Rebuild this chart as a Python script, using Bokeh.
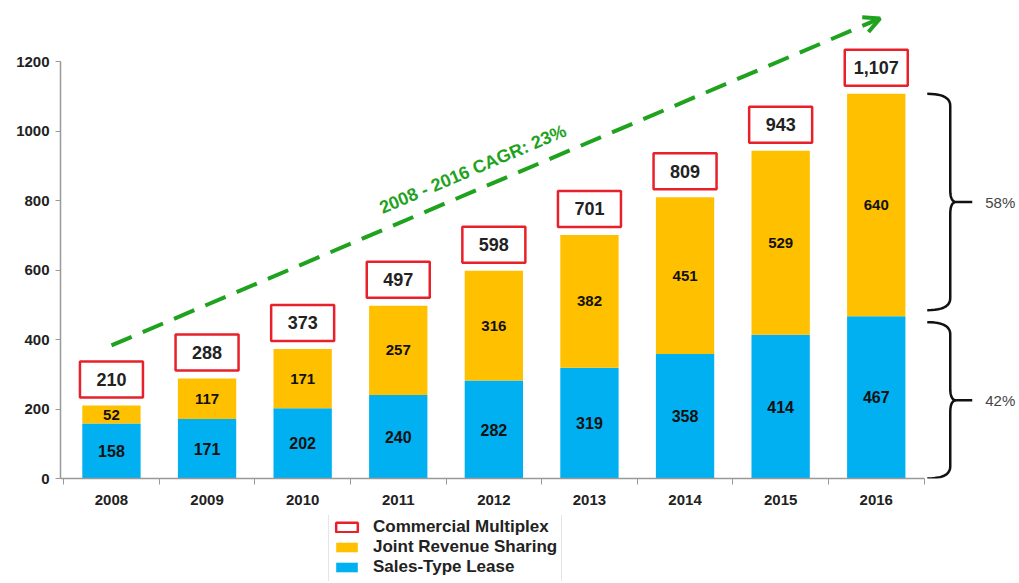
import numpy as np
from bokeh.plotting import figure
from bokeh.layouts import column
from bokeh.models import (Range1d, FixedTicker, ColumnDataSource, Legend, LegendItem,
                          Arrow, OpenHead)
from bokeh.core.properties import value
from bokeh.embed import file_html
from bokeh.resources import INLINE

years = ['2008', '2009', '2010', '2011', '2012', '2013', '2014', '2015', '2016']
sales_type_lease = [158, 171, 202, 240, 282, 319, 358, 414, 467]
joint_revenue = [52, 117, 171, 257, 316, 382, 451, 529, 640]
commercial_total = [210, 288, 373, 497, 598, 701, 809, 943, 1107]
y_ticks = [0, 200, 400, 600, 800, 1000, 1200]
cagr_label = "2008 - 2016 CAGR: 23%"
legend_labels = ["Commercial Multiplex", "Joint Revenue Sharing", "Sales-Type Lease"]

FONT = "Liberation Sans"
BLUE = "#00B0F0"
YELLOW = "#FFC000"
RED = "#E8202A"
GREEN = "#1FA31F"

PX_X = 95.6      # pixels per category
PX_Y = 0.3475    # pixels per unit
W = 1019
LEFT = 60
TOP = 12
FRAME_H = 466
MAIN_H = 515
LEG_H = 66

idx = list(range(len(years)))
src = ColumnDataSource(dict(
    x=idx,
    sales=sales_type_lease,
    jrs=joint_revenue,
    total=commercial_total,
    sales_mid=[s / 2 for s in sales_type_lease],
    jrs_mid=[s + j / 2 for s, j in zip(sales_type_lease, joint_revenue)],
    box_y=[t + 26 / PX_Y for t in commercial_total],
    total_lbl=[f"{t:,}" for t in commercial_total],
    sales_lbl=[str(v) for v in sales_type_lease],
    jrs_lbl=[str(v) for v in joint_revenue],
))

x0r = -0.533
p = figure(width=W, height=MAIN_H, output_backend="svg", toolbar_location=None,
           x_range=Range1d(x0r, x0r + (W - LEFT) / PX_X),
           y_range=Range1d(0, FRAME_H / PX_Y),
           min_border_left=LEFT, min_border_right=0, min_border_top=TOP,
           min_border_bottom=MAIN_H - TOP - FRAME_H)
p.outline_line_color = None
p.xgrid.visible = False
p.ygrid.visible = False

bars = p.vbar_stack(['sales', 'jrs'], x='x', width=0.61, source=src,
                    color=[BLUE, YELLOW], line_color=None)

p.rect(x='x', y='box_y', width=63, height=36, width_units='screen',
       height_units='screen', source=src, fill_color="white",
       line_color=RED, line_width=2.5)

p.text(x='x', y='box_y', text='total_lbl', source=src, text_align='center',
       text_baseline='middle', text_font=value(FONT), text_font_size='18px',
       text_font_style='bold', text_color="#222222")
p.text(x='x', y='sales_mid', text='sales_lbl', source=src, text_align='center',
       text_baseline='middle', text_font=value(FONT), text_font_size='16px',
       text_font_style='bold', text_color="#111111")
p.text(x='x', y='jrs_mid', text='jrs_lbl', source=src, text_align='center',
       text_baseline='middle', text_font=value(FONT), text_font_size='15px',
       text_font_style='bold', text_color="#111111")

# CAGR arrow
y0 = commercial_total[0] + 173
y1 = commercial_total[-1] + 217
arrow = Arrow(end=OpenHead(line_color=GREEN, line_width=4, size=16),
              x_start=0.0, y_start=y0, x_end=8.04, y_end=y1,
              line_color=GREEN, line_width=4, line_dash="22 12")
p.add_layout(arrow)
ang = np.arctan(((y1 - y0) * PX_Y) / (8.04 * PX_X))
p.text(x=[3.78], y=[890], text=[cagr_label], angle=ang, text_align='center',
       text_baseline='middle', text_font=value(FONT), text_font_size='18px',
       text_font_style='bold', text_color=GREEN)

# Braces
def quad(p0, c, p1, n=12):
    t = np.linspace(0, 1, n)
    x = (1 - t) ** 2 * p0[0] + 2 * (1 - t) * t * c[0] + t ** 2 * p1[0]
    y = (1 - t) ** 2 * p0[1] + 2 * (1 - t) * t * c[1] + t ** 2 * p1[1]
    return list(x), list(y)

def brace(ytop, ybot, last_i):
    xa0 = last_i + (927 - 876) / PX_X
    xv = last_i + (950 - 876) / PX_X
    xt = last_i + (972 - 876) / PX_X
    ry = 12 / PX_Y
    rx = 6 / PX_X
    ym = (ytop + ybot) / 2
    xs, ys = [], []
    for seg in [quad((xa0, ytop), (xv, ytop), (xv, ytop - ry)),
                quad((xv, ym + ry), (xv, ym), (xv + rx, ym)),
                ([xt, xv + rx], [ym, ym]),
                quad((xv + rx, ym), (xv, ym), (xv, ym - ry)),
                quad((xv, ybot + ry), (xv, ybot), (xa0, ybot))]:
        xs += list(seg[0]); ys += list(seg[1])
    p.line(xs, ys, line_color="#111111", line_width=2.5)
    return ym

last = len(years) - 1
gap = 6 / PX_Y
ym_top = brace(commercial_total[-1], sales_type_lease[-1] + gap, last)
ym_bot = brace(sales_type_lease[-1] - gap, 0, last)
pct_top = round(100 * joint_revenue[-1] / commercial_total[-1])
pct_bot = round(100 * sales_type_lease[-1] / commercial_total[-1])
p.text(x=[last + (985 - 876) / PX_X] * 2, y=[ym_top, ym_bot],
       text=[f"{pct_top}%", f"{pct_bot}%"], text_align='left', text_baseline='middle',
       text_font=value(FONT), text_font_size='15px', text_color="#444444")

# Axes
xa = p.xaxis[0]
xa.ticker = FixedTicker(ticks=idx, minor_ticks=[i - 0.5 for i in idx] + [idx[-1] + 0.5])
xa.major_label_overrides = {i: y for i, y in zip(idx, years)}
xa.bounds = (x0r, idx[-1] + 0.5)
xa.major_tick_out = 0
xa.major_tick_in = 0
xa.minor_tick_out = 6
xa.minor_tick_in = 0
xa.minor_tick_line_color = "#999999"
xa.axis_line_color = "#999999"
xa.axis_line_width = 1.5
xa.major_label_standoff = 10
xa.major_label_text_font = FONT
xa.major_label_text_font_size = '15px'
xa.major_label_text_font_style = 'bold'
xa.major_label_text_color = "#222222"

ya = p.yaxis[0]
ya.ticker = FixedTicker(ticks=y_ticks)
ya.bounds = (y_ticks[0], y_ticks[-1])
ya.major_tick_out = 5
ya.major_tick_in = 0
ya.minor_tick_out = 0
ya.minor_tick_in = 0
ya.major_tick_line_color = "#999999"
ya.axis_line_color = "#999999"
ya.axis_line_width = 1.5
ya.major_label_standoff = 6
ya.major_label_text_font = FONT
ya.major_label_text_font_size = '15px'
ya.major_label_text_font_style = 'bold'
ya.major_label_text_color = "#222222"

# Legend strip below the chart
pl = figure(width=W, height=LEG_H, output_backend="svg", toolbar_location=None,
            x_axis_type=None, y_axis_type=None, x_range=Range1d(0, 1), y_range=Range1d(0, 1),
            min_border_left=0, min_border_right=0, min_border_top=0, min_border_bottom=0)
pl.outline_line_color = None
pl.xgrid.visible = False
pl.ygrid.visible = False
off = [-5.0]   # legend-only renderers, kept outside the visible range
r_box = pl.rect(x=off, y=off, width=1, height=1, fill_color="white", line_color=RED, line_width=2.5)
r_jrs = pl.rect(x=off, y=off, width=1, height=1, fill_color=YELLOW, line_color=None)
r_stl = pl.rect(x=off, y=off, width=1, height=1, fill_color=BLUE, line_color=None)
legend = Legend(items=[LegendItem(label=legend_labels[0], renderers=[r_box]),
                       LegendItem(label=legend_labels[1], renderers=[r_jrs]),
                       LegendItem(label=legend_labels[2], renderers=[r_stl])],
                location=(268, -1), orientation='vertical',
                glyph_width=27, glyph_height=12, label_height=18, spacing=0,
                padding=4, margin=0, label_standoff=13,
                label_text_font=FONT, label_text_font_size='17px',
                label_text_font_style='bold', label_text_color="#222222",
                border_line_color="#cccccc", background_fill_alpha=1)
pl.add_layout(legend, 'center')

layout = column(p, pl, spacing=0)
open("out.html", "w").write(file_html(layout, INLINE))
